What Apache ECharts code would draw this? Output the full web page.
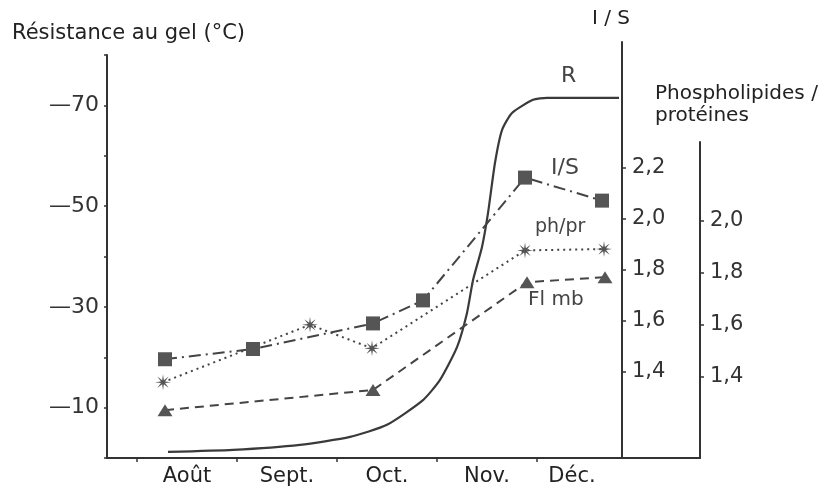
<!DOCTYPE html>
<html>
<head>
<meta charset="utf-8">
<script src="https://cdn.jsdelivr.net/npm/echarts@6/dist/echarts.min.js"></script>
<style>
  html, body { margin: 0; padding: 0; background: #ffffff; }
  #chart { width: 839px; height: 491px; }
</style>
</head>
<body>
<div id="chart"></div>
<script>
// ---- data (x in months: Août = 0, Sept = 1, ...) ----
const months = ['Août', 'Sept.', 'Oct.', 'Nov.', 'Déc.'];
const monthLabelAt = [0, 1, 2, 3, 3.85];
const monthTickAt = [-0.5, 0.5, 1.5, 2.5, 3.5];

const resistanceTicks = [-70, -50, -30, -10];
const isTicks = [1.4, 1.6, 1.8, 2.0, 2.2];
const phprTicks = [1.4, 1.6, 1.8, 2.0];

// R : résistance au gel (°C)
const rX = [-0.19, 0.46, 1.13, 1.63, 2.00, 2.36, 2.53, 2.70, 2.80, 2.86, 2.95, 3.01, 3.08, 3.15, 3.25, 3.46, 3.60, 4.32];
const rY = [-1.2, -1.6, -2.6, -4.2, -6.6, -11.5, -15.5, -22.0, -28.8, -35.3, -41.9, -48.6, -58.6, -65.1, -68.5, -71.1, -71.5, -71.5];

// I/S
const isX = [-0.22, 0.66, 1.86, 2.36, 3.38, 4.15];
const isY = [1.45, 1.49, 1.59, 1.68, 2.16, 2.07];

// ph/pr
const phX = [-0.24, 1.23, 1.85, 3.38, 4.17];
const phY = [1.38, 1.60, 1.51, 1.885, 1.89];

// Fl mb (plotted on the left scale)
const flX = [-0.22, 1.86, 3.40, 4.18];
const flY = [-9.5, -13.5, -34.9, -35.9];

// ---- layout ----
const W = 839, H = 491;
const pxPerMonth = 100;
const xMin = -0.8;
const gLeft = 107, gBottom = 33;
const rightIS = W - 622, rightPH = W - 700;
const xMax0 = xMin + (W - rightIS - gLeft) / pxPerMonth;
const xMax2 = xMin + (W - rightPH - gLeft) / pxPerMonth;

const ink = '#333333';
const font = 'DejaVu Sans';
const zip = (a, b) => a.map((v, i) => [v, b[i]]);
const comma = v => v.toFixed(1).replace('.', ',');

// 8-point spiky star (asterisk-like)
function starPath() {
  let d = '';
  const n = 8;
  for (let i = 0; i < n * 2; i++) {
    const r = i % 2 === 0 ? 10 : 2.8;
    const a = Math.PI * i / n - Math.PI / 2;
    const x = (10 + r * Math.cos(a)).toFixed(2);
    const y = (10 + r * Math.sin(a)).toFixed(2);
    d += (i === 0 ? 'M' : 'L') + x + ' ' + y + ' ';
  }
  return 'path://' + d + 'Z';
}

const chart = echarts.init(document.getElementById('chart'), null, { renderer: 'canvas' });

const axisLineStyle = { color: ink, width: 2 };

chart.setOption({
  backgroundColor: '#ffffff',
  animation: false,
  textStyle: { fontFamily: font },
  grid: [
    { left: gLeft, right: rightIS, top: 55, bottom: gBottom },
    { left: gLeft, right: rightIS, top: 42, bottom: gBottom },
    { left: gLeft, right: rightPH, top: 142, bottom: gBottom }
  ],
  xAxis: [
    {
      gridIndex: 0, type: 'value', min: xMin, max: xMax0,
      axisLine: { show: true, onZero: false, lineStyle: axisLineStyle },
      axisTick: { show: true, customValues: monthTickAt, length: 4, lineStyle: { color: ink, width: 1.5 } },
      axisLabel: {
        customValues: monthLabelAt, color: '#222', fontSize: 21, fontFamily: font, margin: 8,
        formatter: v => { const i = monthLabelAt.findIndex(m => Math.abs(m - v) < 1e-6); return i >= 0 ? months[i] : ''; }
      },
      splitLine: { show: false }
    },
    { gridIndex: 1, type: 'value', min: xMin, max: xMax0, show: false },
    {
      gridIndex: 2, type: 'value', min: xMin, max: xMax2,
      axisLine: { show: true, onZero: false, lineStyle: axisLineStyle },
      axisTick: { show: false }, axisLabel: { show: false }, splitLine: { show: false }
    }
  ],
  yAxis: [
    {
      gridIndex: 0, type: 'value', position: 'left', inverse: true, min: -80, max: 0, interval: 10,
      axisLine: { show: true, onZero: false, lineStyle: axisLineStyle },
      axisTick: { show: true, length: 3, lineStyle: { color: ink, width: 1.5 } },
      axisLabel: {
        color: '#333', fontSize: 22, fontFamily: font, margin: 8,
        formatter: v => resistanceTicks.includes(v) ? '\u2014' + Math.abs(v) : ''
      },
      splitLine: { show: false }
    },
    {
      gridIndex: 1, type: 'value', position: 'right', min: 1.064, max: 2.69,
      axisLine: { show: true, onZero: false, lineStyle: axisLineStyle },
      axisTick: { show: true, customValues: isTicks, length: 4, lineStyle: { color: ink, width: 1.5 } },
      axisLabel: { customValues: isTicks, color: '#333', fontSize: 21, fontFamily: font, margin: 10, formatter: v => comma(v) },
      splitLine: { show: false }
    },
    {
      gridIndex: 2, type: 'value', position: 'right', min: 1.09, max: 2.30,
      axisLine: { show: true, onZero: false, lineStyle: axisLineStyle },
      axisTick: { show: true, customValues: phprTicks, length: 4, lineStyle: { color: ink, width: 1.5 } },
      axisLabel: { customValues: phprTicks, color: '#333', fontSize: 21, fontFamily: font, margin: 10, formatter: v => comma(v) },
      splitLine: { show: false }
    }
  ],
  series: [
    {
      name: 'R', type: 'line', xAxisIndex: 0, yAxisIndex: 0,
      data: zip(rX, rY), smooth: 0.2, showSymbol: false, symbol: 'none',
      lineStyle: { color: '#3a3a3a', width: 2.2 }
    },
    {
      name: 'Fl mb', type: 'line', xAxisIndex: 0, yAxisIndex: 0,
      data: zip(flX, flY), symbol: 'triangle', symbolSize: [15, 12],
      itemStyle: { color: '#555555' },
      lineStyle: { color: '#444444', width: 2, type: [9, 6] }
    },
    {
      name: 'I/S', type: 'line', xAxisIndex: 1, yAxisIndex: 1,
      data: zip(isX, isY), symbol: 'rect', symbolSize: 14,
      itemStyle: { color: '#555555' },
      lineStyle: { color: '#444444', width: 2, type: [12, 5, 2, 5] }
    },
    {
      name: 'ph/pr', type: 'line', xAxisIndex: 2, yAxisIndex: 2,
      data: zip(phX, phY), symbol: starPath(), symbolSize: 16,
      itemStyle: { color: '#555555' },
      lineStyle: { color: '#444444', width: 2, type: [2, 4] }
    }
  ],
  graphic: [
    { type: 'text', left: 12, top: 23, style: { text: 'Résistance au gel (°C)', font: '21px "DejaVu Sans"', fill: '#222' } },
    { type: 'text', left: 592, top: 9, style: { text: 'I / S', font: '20px "DejaVu Sans"', fill: '#222' } },
    { type: 'text', left: 655, top: 84, style: { text: 'Phospholipides /', font: '20px "DejaVu Sans"', fill: '#222' } },
    { type: 'text', left: 655, top: 106, style: { text: 'protéines', font: '20px "DejaVu Sans"', fill: '#222' } },
    { type: 'text', left: 561, top: 65, style: { text: 'R', font: '22px "DejaVu Sans"', fill: '#444' } },
    { type: 'text', left: 551, top: 157, style: { text: 'I/S', font: '22px "DejaVu Sans"', fill: '#444' } },
    { type: 'text', left: 535, top: 218, style: { text: 'ph/pr', font: '19px "DejaVu Sans"', fill: '#444' } },
    { type: 'text', left: 528, top: 290, style: { text: 'Fl mb', font: '20px "DejaVu Sans"', fill: '#444' } }
  ]
});
</script>
</body>
</html>
